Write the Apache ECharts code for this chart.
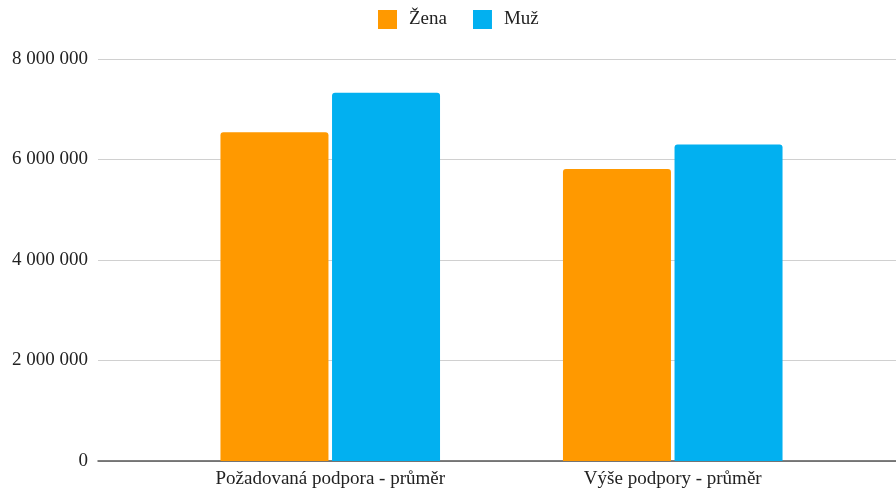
<!DOCTYPE html>
<html><head><meta charset="utf-8">
<script src="https://cdn.jsdelivr.net/npm/echarts@6/dist/echarts.min.js"></script>
<style>html,body{margin:0;padding:0;background:#fff}#c{width:896px;height:489px}</style>
</head><body><div id="c"></div>
<script>
const categories = ['Požadovaná podpora - průměr', 'Výše podpory - průměr'];
const zena = [6540000, 5810000];
const muz = [7330000, 6300000];
const yTicks = [0, 2000000, 4000000, 6000000, 8000000];

const font = '"Liberation Serif", "DejaVu Serif", serif';
const fmt = v => String(v).replace(/\B(?=(\d{3})+(?!\d))/g, ' ');
const chart = echarts.init(document.getElementById('c'));
chart.setOption({
  animation: false,
  legend: {
    left: 378, top: 10, padding: 0, itemWidth: 19, itemHeight: 19, itemGap: 26, icon: 'rect',
    itemStyle: { borderRadius: 2 },
    textStyle: { fontFamily: font, fontSize: 19, color: '#222', padding: [0, 0, 0, 7] },
    data: ['Žena', 'Muž']
  },
  grid: [
    { left: 98, right: 0, top: 59, bottom: 28 },
    { left: 159, right: 52, top: 59, bottom: 28 }
  ],
  xAxis: [
    { gridIndex: 0, type: 'value', min: 0, max: 1, axisLabel: { show: false }, axisTick: { show: false }, splitLine: { show: false },
      axisLine: { show: true, lineStyle: { color: '#555', width: 1.5 } } },
    { gridIndex: 1, type: 'category', data: categories, axisLine: { show: false }, axisTick: { show: false },
      axisLabel: { fontFamily: font, fontSize: 19, color: '#222', margin: 9 } }
  ],
  yAxis: [
    { gridIndex: 0, type: 'value', min: yTicks[0], max: yTicks[yTicks.length - 1], interval: yTicks[1] - yTicks[0],
      axisLine: { show: false }, axisTick: { show: false },
      axisLabel: { fontFamily: font, fontSize: 19, color: '#222', margin: 10, formatter: fmt },
      splitLine: { lineStyle: { color: '#d0d0d0', width: 1 } } },
    { gridIndex: 1, type: 'value', min: yTicks[0], max: yTicks[yTicks.length - 1], show: false, splitLine: { show: false } }
  ],
  series: [
    { name: 'Žena', type: 'bar', xAxisIndex: 1, yAxisIndex: 1, data: zena, barWidth: 108, barGap: '3.3%',
      itemStyle: { color: '#FF9900', borderRadius: [3, 3, 0, 0] } },
    { name: 'Muž', type: 'bar', xAxisIndex: 1, yAxisIndex: 1, data: muz, barWidth: 108, barGap: '3.3%',
      itemStyle: { color: '#02B0F0', borderRadius: [3, 3, 0, 0] } }
  ]
});
</script></body></html>
